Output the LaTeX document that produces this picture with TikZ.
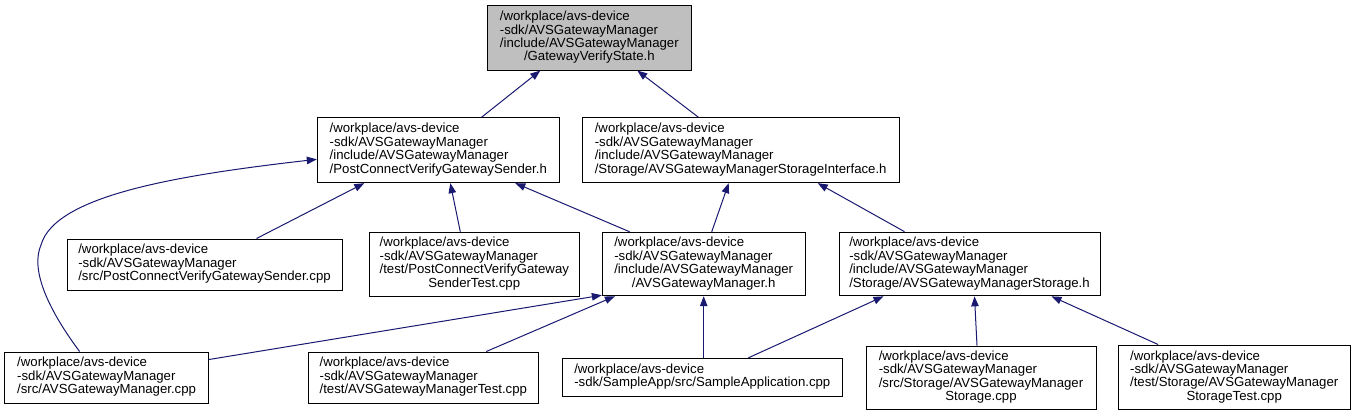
\documentclass[tikz,border=0pt]{standalone}
\usepackage{fontspec}
\setmainfont{Liberation Sans}
\usetikzlibrary{arrows.meta,calc}
\definecolor{edgeblue}{RGB}{25,25,112}
\definecolor{hlgray}{RGB}{191,191,191}
\newcommand\ftext[2]{{\fontsize{13.2}{13}\selectfont\begin{tabular}{@{}l@{}}#1\\\multicolumn{1}{@{}c@{}}{#2}\end{tabular}}}
\tikzset{
  filebox/.style={draw=black, line width=1pt, fill=white, inner sep=0pt, align=center},
  dep/.style={draw=edgeblue, line width=1pt, -{Triangle[length=10pt,width=7.5pt]}, fill=none},
}
\begin{document}
\begin{tikzpicture}[x=1pt,y=-1pt]
\useasboundingbox (0,0) rectangle (1355,416);
% nodes
\node[filebox, fill=hlgray, minimum width=203.4pt, minimum height=64.3pt] (A) at (589.3,37.9)
  {\ftext{/workplace/avs-device\\-sdk/AVSGatewayManager\\/include/AVSGatewayManager}{/GatewayVerifyState.h}};
\node[filebox, minimum width=242pt, minimum height=64.7pt] (B) at (438.3,150.3)
  {\ftext{/workplace/avs-device\\-sdk/AVSGatewayManager\\/include/AVSGatewayManager}{/PostConnectVerifyGatewaySender.h}};
\node[filebox, minimum width=316.7pt, minimum height=64.7pt] (C) at (740.7,150.3)
  {\ftext{/workplace/avs-device\\-sdk/AVSGatewayManager\\/include/AVSGatewayManager}{/Storage/AVSGatewayManagerStorageInterface.h}};
\node[filebox, minimum width=275pt, minimum height=51pt] (D) at (204.5,264.5)
  {\ftext{/workplace/avs-device\\-sdk/AVSGatewayManager}{/src/PostConnectVerifyGatewaySender.cpp}};
\node[filebox, minimum width=209.5pt, minimum height=64pt] (E) at (474.3,264.2)
  {\ftext{/workplace/avs-device\\-sdk/AVSGatewayManager\\/test/PostConnectVerifyGateway}{SenderTest.cpp}};
\node[filebox, minimum width=202.7pt, minimum height=63.4pt] (F) at (703.7,264)
  {\ftext{/workplace/avs-device\\-sdk/AVSGatewayManager\\/include/AVSGatewayManager}{/AVSGatewayManager.h}};
\node[filebox, minimum width=261pt, minimum height=63.7pt] (G) at (969.5,264)
  {\ftext{/workplace/avs-device\\-sdk/AVSGatewayManager\\/include/AVSGatewayManager}{/Storage/AVSGatewayManagerStorage.h}};
\node[filebox, minimum width=203.8pt, minimum height=51pt] (H) at (106.6,377.5)
  {\ftext{/workplace/avs-device\\-sdk/AVSGatewayManager}{/src/AVSGatewayManager.cpp}};
\node[filebox, minimum width=230.5pt, minimum height=51pt] (I) at (423.3,377.5)
  {\ftext{/workplace/avs-device\\-sdk/AVSGatewayManager}{/test/AVSGatewayManagerTest.cpp}};
\node[filebox, minimum width=280pt, minimum height=37.7pt] (J) at (702.3,377.2)
  {\ftext{/workplace/avs-device}{-sdk/SampleApp/src/SampleApplication.cpp}};
\node[filebox, minimum width=230pt, minimum height=63.3pt] (K) at (981,377.7)
  {\ftext{/workplace/avs-device\\-sdk/AVSGatewayManager\\/src/Storage/AVSGatewayManager}{Storage.cpp}};
\node[filebox, minimum width=231.7pt, minimum height=64.3pt] (L) at (1234.2,377.2)
  {\ftext{/workplace/avs-device\\-sdk/AVSGatewayManager\\/test/Storage/AVSGatewayManager}{StorageTest.cpp}};
% edges (child -> parent)
\draw[dep] ($(B.north)+(43,0)$) -- ($(A.south)+(-49,0)$);
\draw[dep] ($(C.north)+(-42,0)$) -- ($(A.south)+(48,0)$);
\draw[dep] ($(D.north)+(52,0)$) -- ($(B.south)+(-74,0)$);
\draw[dep] ($(E.north)+(-14,0)$) -- ($(B.south)+(12,0)$);
\draw[dep] ($(F.north)+(-74,0)$) -- ($(B.south)+(77,0)$);
\coordinate (hb) at (41,245);
\draw[dep] ($(H.north)+(-27,0)$) .. controls (45,305) and (31,268) .. (hb)
  .. controls (55,195) and (180,175) .. ($(B.west)+(0,9)$);
\draw[dep] ($(F.north)+(8,0)$) -- ($(C.south)+(-12,0)$);
\draw[dep] ($(G.north)+(-65,0)$) -- ($(C.south)+(77,0)$);
\draw[dep] ($(H.east)+(0,-18)$) -- ($(F.south west)+(0,-1)$);
\draw[dep] ($(I.north)+(63,0)$) -- ($(F.south west)+(13,0)$);
\draw[dep] (J.north -| F.south) -- (F.south);
\draw[dep] ($(J.north)+(46,0)$) -- ($(G.south)+(-86,0)$);
\draw[dep] ($(K.north)+(-4,0)$) -- ($(G.south)+(5,0)$);
\draw[dep] ($(L.north)+(-76,0)$) -- ($(G.south)+(82,0)$);
\end{tikzpicture}
\end{document}
